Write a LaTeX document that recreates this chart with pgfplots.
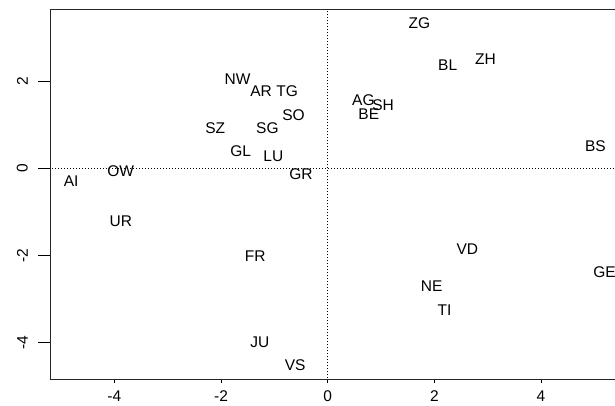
\documentclass[border=0pt]{standalone}
\usepackage{fontspec}
\setmainfont{Liberation Sans}
\usepackage{pgfplots}
\pgfplotsset{compat=1.18}
\usepackage{pgfplotstable}
\pgfplotstableread{
lab x y
ZG 1.72 3.34
BL 2.25 2.36
ZH 2.96 2.50
AG 0.67 1.57
SH 1.04 1.44
BE 0.77 1.24
BS 5.02 0.51
NW -1.69 2.05
AR -1.25 1.78
TG -0.76 1.78
SO -0.64 1.22
SZ -2.11 0.92
SG -1.13 0.92
GL -1.63 0.40
LU -1.02 0.27
GR -0.50 -0.13
OW -3.88 -0.06
AI -4.81 -0.29
UR -3.88 -1.21
FR -1.36 -2.02
JU -1.27 -4.00
VS -0.61 -4.52
VD 2.62 -1.86
NE 1.95 -2.70
TI 2.19 -3.26
GE 5.19 -2.38
}\cantons
\begin{document}
\begin{tikzpicture}[font=\fontsize{15.5}{18}\selectfont]
\path[use as bounding box] (0,0) rectangle (615pt,406pt);
\clip (0,0) rectangle (615pt,406pt);
\begin{axis}[
  at={(50pt,26.7pt)}, anchor=south west,
  x=53.33pt, y=43.5pt,
  xmin=-5.207, xmax=6, ymin=-4.851, ymax=3.655,
  axis line style={black!85, line width=0.8pt},
  xtick={-4,-2,0,2,4}, ytick={-4,-2,0,2},
  tick pos=left, tick align=outside,
  major tick length=8pt,
  xtick style={/pgfplots/major tick length=4pt},
  ytick style={/pgfplots/major tick length=12pt},
  tick style={black, line width=0.8pt},
  /pgf/number format/assume math mode=true,
  xticklabel style={anchor=north, inner sep=0pt},
  yticklabel style={rotate=90, anchor=south, inner sep=0pt},
  xticklabel shift=3pt,
  yticklabel shift=14pt,
  clip mode=individual,
]
\addplot[black, line width=0.8pt, dash pattern=on 1pt off 2pt] coordinates {(0,-10) (0,10)};
\addplot[black, line width=0.8pt, dash pattern=on 1pt off 2pt] coordinates {(-10,0) (10,0)};
\addplot[only marks, mark=none, nodes near coords={\pgfplotspointmeta},
  point meta=explicit symbolic,
  nodes near coords style={anchor=center, inner sep=0pt, black}]
  table[x=x, y=y, meta=lab] {\cantons};
\end{axis}
\end{tikzpicture}
\end{document}
